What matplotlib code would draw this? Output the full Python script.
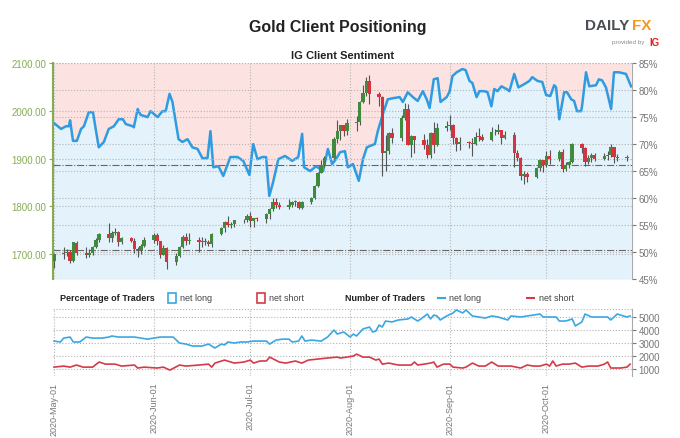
import numpy as np
import pandas as pd
import matplotlib
matplotlib.use('Agg')
import matplotlib.pyplot as plt
import matplotlib.dates as mdates
from matplotlib.patches import Rectangle
from matplotlib.lines import Line2D

plt.rcParams['font.family'] = ['Liberation Sans', 'DejaVu Sans']

# ---- gold daily candles, 2020-05-01 .. 2020-10-26 (trading days) ----
days = pd.bdate_range('2020-05-01', '2020-10-26')

opens = [1686, 1700, 1702, 1705, 1685, 1724, 1702, 1698, 1703, 1715, 1730, 1743, 1733, 1745, 1747, 1725, 1735, 1728, 1710, 1708, 1718,
         1730, 1740, 1727, 1699, 1713, 1684, 1697, 1715, 1737, 1728, 1730, 1725, 1727, 1726, 1722, 1743, 1755, 1767, 1761, 1764, 1771, 1772,
         1781, 1769, 1776, 1774, 1784, 1795, 1809, 1803, 1798, 1802, 1809, 1809, 1797, 1809, 1817, 1842, 1871, 1887, 1902, 1941, 1958, 1970, 1957,
         1975, 1976, 2018, 2037, 2062, 2035, 2028, 1912, 1916, 1953, 1944, 1985, 2003, 1929, 1947, 1940, 1928, 1907, 1953, 1929, 1964,
         1968, 1970, 1943, 1930, 1934, 1932, 1930, 1946, 1945, 1940, 1956, 1955, 1960, 1944, 1950, 1912, 1901, 1863, 1868, 1862, 1881, 1898,
         1886, 1906, 1899, 1913, 1878, 1887, 1893, 1930, 1922, 1892, 1901, 1908, 1899, 1905, 1907, 1924, 1904, 1902]
highs = [1703, 1715, 1711, 1708, 1726, 1727, 1716, 1711, 1718, 1734, 1745, 1765, 1748, 1754, 1748, 1737, 1737, 1735, 1715, 1722, 1737,
         1745, 1744, 1728, 1720, 1716, 1702, 1718, 1740, 1744, 1745, 1736, 1736, 1733, 1730, 1745, 1757, 1769, 1779, 1768, 1772, 1774, 1785,
         1789, 1776, 1778, 1786, 1797, 1818, 1817, 1810, 1815, 1812, 1814, 1811, 1812, 1820, 1844, 1872, 1898, 1905, 1945, 1981, 1971, 1970, 1984,
         1990, 2020, 2055, 2070, 2075, 2040, 2032, 1950, 1956, 1965, 1991, 2016, 2014, 1950, 1948, 1951, 1941, 1955, 1976, 1975, 1978,
         1992, 1973, 1946, 1945, 1938, 1943, 1956, 1965, 1952, 1966, 1963, 1973, 1961, 1958, 1955, 1918, 1904, 1875, 1872, 1883, 1899, 1898,
         1917, 1918, 1918, 1921, 1893, 1896, 1933, 1932, 1924, 1908, 1911, 1911, 1912, 1916, 1931, 1925, 1910, 1908]
lows = [1672, 1691, 1696, 1682, 1684, 1699, 1692, 1694, 1699, 1713, 1725, 1725, 1726, 1741, 1718, 1722, 1725, 1703, 1694, 1700, 1715,
        1723, 1720, 1693, 1698, 1670, 1677, 1694, 1713, 1719, 1722, 1704, 1715, 1720, 1718, 1716, 1741, 1747, 1757, 1755, 1758, 1766, 1768,
        1757, 1757, 1770, 1765, 1774, 1791, 1797, 1795, 1795, 1798, 1801, 1795, 1795, 1806, 1815, 1840, 1870, 1882, 1900, 1932, 1940, 1948, 1949,
        1958, 1970, 2016, 2032, 2015, 2010, 1863, 1874, 1910, 1932, 1938, 1980, 1929, 1903, 1912, 1920, 1902, 1902, 1911, 1927, 1958,
        1960, 1930, 1916, 1919, 1922, 1906, 1928, 1938, 1937, 1937, 1950, 1952, 1930, 1941, 1882, 1895, 1855, 1848, 1851, 1859, 1874, 1872,
        1883, 1889, 1895, 1873, 1874, 1881, 1890, 1911, 1885, 1888, 1892, 1895, 1898, 1897, 1904, 1890, 1896, 1896]
closes = [1700, 1702, 1705, 1685, 1725, 1702, 1698, 1703, 1715, 1730, 1743, 1733, 1745, 1747, 1725, 1735, 1728, 1710, 1708, 1718, 1730,
          1740, 1727, 1699, 1713, 1684, 1697, 1715, 1737, 1728, 1730, 1725, 1727, 1726, 1722, 1743, 1755, 1767, 1761, 1764, 1771, 1772, 1781,
          1769, 1776, 1774, 1784, 1795, 1809, 1803, 1798, 1802, 1809, 1809, 1797, 1809, 1817, 1842, 1871, 1887, 1902, 1941, 1958, 1970, 1957, 1975,
          1976, 2018, 2037, 2062, 2035, 2028, 1912, 1916, 1953, 1944, 1985, 2003, 1929, 1947, 1940, 1928, 1907, 1953, 1929, 1964, 1968,
          1970, 1943, 1930, 1934, 1932, 1930, 1946, 1945, 1940, 1956, 1955, 1960, 1944, 1950, 1912, 1901, 1863, 1868, 1862, 1881, 1898, 1886,
          1906, 1899, 1913, 1878, 1887, 1893, 1930, 1922, 1892, 1901, 1908, 1899, 1905, 1907, 1924, 1904, 1902, 1902]

# ---- % net long (days after 2020-05-01) ----
sent_day = [0, 2.2, 3.7, 4.6, 5.0, 5.9, 7.1, 8.4, 9.3, 10.8, 12.1, 13.9, 15.5, 17.0, 18.6, 20.1, 21.4, 22.3, 24.5, 24.8,
            26.0, 26.9, 29.1, 30.0, 32.2, 33.7, 34.7, 35.9, 36.8, 38.7, 39.9, 41.5, 43.0, 44.6, 46.1, 47.7, 48.6, 49.5, 51.1, 52.6,
            54.8, 57.0, 58.8, 60.7, 61.9, 63.2, 64.7, 65.9, 66.9, 68.1, 69.7, 71.8, 74.0, 75.9, 77.1, 77.7, 79.6, 81.4, 83.6, 85.1,
            86.4, 87.6, 88.9, 90.4, 91.3, 92.9, 94.7, 96.0, 97.2, 98.8, 99.7, 100.6, 102.2, 103.7, 105.3, 107.4, 108.4, 109.9, 111.5, 113.0,
            114.6, 115.8, 116.7, 118.0, 119.2, 120.1, 122.0, 122.9, 123.8, 125.1, 126.9, 127.9, 129.1, 130.0, 131.3, 132.2, 133.7, 134.7,
            135.9, 136.8, 137.8, 139.0, 140.6, 141.5, 143.0, 144.3, 146.1, 147.7, 148.6, 150.2, 151.7, 152.9, 154.2, 155.4, 156.0, 157.0,
            158.5, 159.4, 160.7, 161.6, 162.5, 163.8, 164.1, 165.3, 166.3, 168.4, 169.3, 170.3, 171.5, 173.1, 174.0, 175.5, 177.7, 179.3]
sent_long = [73.9, 72.8, 73.3, 73.3, 74.4, 70.6, 70.6, 72.8, 73.3, 75.9, 75.9, 69.4, 70.4, 72.8, 73.3, 74.6, 74.6, 73.7, 73.3, 73.1,
             76.5, 75.4, 75.0, 76.1, 75.0, 76.1, 76.1, 79.3, 77.8, 70.9, 70.4, 70.9, 69.4, 69.1, 67.4, 67.4, 72.4, 65.7, 65.9, 64.1,
             67.6, 67.6, 66.9, 64.3, 70.0, 67.2, 67.6, 67.6, 60.4, 63.0, 67.2, 67.8, 66.9, 67.6, 71.9, 65.7, 65.0, 65.9, 65.0, 69.1,
             66.3, 67.2, 68.5, 68.7, 65.7, 66.3, 63.2, 67.2, 69.4, 69.8, 70.0, 72.4, 75.6, 78.3, 78.5, 78.7, 77.8, 79.6, 78.7, 78.0,
             79.8, 78.3, 76.7, 82.0, 82.2, 77.8, 78.7, 79.7, 82.6, 83.3, 83.9, 83.7, 81.7, 81.3, 78.7, 79.8, 79.8, 79.6,
             77.0, 80.2, 79.8, 80.7, 80.2, 79.8, 83.0, 80.5, 81.1, 81.7, 82.4, 81.7, 81.5, 79.1, 78.9, 80.9, 80.5, 74.6,
             79.6, 79.6, 78.3, 78.0, 76.1, 76.1, 77.2, 83.3, 80.7, 80.9, 82.0, 81.8, 80.5, 76.5, 83.3, 83.3, 83.0, 80.7]

# ---- number of traders ----
long_day = [0, 2, 3, 5, 6, 8, 10, 12, 15, 17, 18, 20, 22, 25, 27, 29, 31, 33, 35, 37, 39, 41, 43, 46, 48, 50, 52, 53, 54, 56,
            58, 60, 62, 64, 66, 67, 69, 71, 73, 74, 76, 77, 78, 80, 83, 85, 87, 88, 90, 92, 93, 94, 96, 98, 99, 100, 101, 102, 103, 105,
            107, 110, 111, 113, 114, 116, 117, 118, 119, 120, 122, 124, 125, 127, 128, 130, 132, 134, 136, 138, 141, 142, 145, 147, 149, 151,
            152, 154, 156, 157, 159, 161, 162, 164, 165, 167, 169, 172, 173, 175, 176, 178, 179]
long_count = [3150, 3080, 3380, 3460, 3080, 3080, 3460, 3380, 3380, 3460, 3540, 3460, 3460, 3460, 3380, 3300, 3380, 3460, 3460, 3460,
              3000, 2920, 2770, 2770, 2920, 2620, 2920, 2850, 3080, 3000, 3080, 3080, 3150, 3150, 3150, 2920, 3230, 3300, 3300, 3080,
              3150, 3540, 3150, 3230, 3150, 3460, 4000, 3690, 3850, 3460, 3690, 3540, 4080, 4230, 3850, 3920, 4380, 4230, 4690, 4620,
              4770, 4850, 5000, 4690, 4850, 5230, 4850, 5150, 5080, 4770, 5080, 5310, 5540, 5310, 5540, 5080, 5000, 4920, 5080, 5000,
              4770, 5080, 5000, 5080, 5150, 5230, 5000, 5000, 5000, 4690, 4690, 4850, 4310, 4620, 5230, 5000, 5000, 5000, 4770, 5230,
              5150, 5000, 5080]
short_day = [0, 3, 5, 7, 9, 12, 14, 16, 19, 21, 25, 26, 28, 32, 34, 36, 39, 41, 45, 48, 49, 50, 53, 56, 59, 61, 62, 64, 66, 67,
             70, 72, 75, 77, 79, 82, 85, 88, 89, 91, 93, 94, 96, 98, 100, 101, 102, 104, 107, 111, 112, 113, 115, 117, 118, 119, 121,
             123, 124, 127, 128, 130, 132, 134, 136, 138, 141, 142, 145, 147, 149, 151, 153, 154, 155, 156, 158, 160, 162, 164, 166,
             169, 171, 172, 173, 176, 178, 179]
short_count = [1150, 1230, 1150, 1310, 1150, 1150, 1540, 1380, 1380, 1230, 1310, 1080, 1150, 1080, 1150, 920, 1310, 1230, 1310, 1380,
               1150, 1460, 1690, 1460, 1540, 1690, 1460, 1620, 1620, 1920, 1540, 1460, 1620, 1460, 1690, 1770, 1850, 1920, 1850, 1920,
               2000, 2150, 1920, 1920, 1690, 1770, 1380, 1460, 1310, 1310, 1540, 1310, 1380, 1460, 1540, 1150, 1380, 1380, 1150, 1080,
               1150, 1460, 1230, 1230, 1540, 1230, 1230, 1230, 1080, 1310, 1230, 1230, 1380, 1230, 1620, 1230, 1380, 1380, 1460, 1150,
               1230, 1230, 1380, 1540, 1080, 1080, 1150, 1380]

months = ['2020-05-01', '2020-06-01', '2020-07-01', '2020-08-01', '2020-09-01', '2020-10-01']
pct_ticks = [45, 50, 55, 60, 65, 70, 75, 80, 85]
price_ticks = [1700, 1800, 1900, 2000, 2100]
count_ticks = [1000, 2000, 3000, 4000, 5000]

# colours
GREEN_AX = '#84ad52'
GRAY = '#777777'
GRID = '#b5b5b5'
BLUE = '#2f9be0'
RED = '#d63a48'
UP = '#3f8a3c'
DOWN = '#d3343d'

base = mdates.date2num(pd.Timestamp('2020-05-01'))
xd = mdates.date2num(days)
xlim = (base - 0.3, base + 179.5)

fig = plt.figure(figsize=(6.8, 4.39), dpi=100)

# ---------- top panel: % long (main axes) + price candles (twin) ----------
ax = fig.add_axes([0.078, 0.362, 0.851, 0.492])
ax.set_xlim(*xlim)
ax.set_ylim(45, 85)
sx = base + np.array(sent_day)
sl = np.array(sent_long)
ax.fill_between(sx, sl, 85, color='#fde2e2', lw=0)
ax.fill_between(sx, 45, sl, color='#e3f2fb', lw=0)
for t in pct_ticks:
    ax.axhline(t, color=GRID, ls=':', lw=0.8, zorder=1)
for m in months:
    ax.axvline(mdates.date2num(pd.Timestamp(m)), color=GRID, ls=':', lw=0.8, zorder=1)
ax.axhline(66.2, color='#666666', ls='-.', lw=0.8, zorder=2)
ax.axhline(50.3, color='#666666', ls='-.', lw=0.8, zorder=2)
ax.plot(sx, sl, color=BLUE, lw=1.8, zorder=3)
ax.set_xticks([])

axp = ax.twinx()
# twinx moves the main ticks to the left, so put them back on the right
ax.yaxis.tick_right()
ax.set_yticks(pct_ticks)
ax.set_yticklabels(['%d%%' % t for t in pct_ticks])
ax.tick_params(axis='y', colors=GRAY, labelsize=7, length=3, pad=2)
for s in ['top', 'bottom', 'left']:
    ax.spines[s].set_visible(False)
ax.spines['right'].set_color('#aaaaaa')

axp.set_ylim(1648, 2100)
axp.set_xlim(*xlim)
for t in price_ticks:
    axp.axhline(t, color=GRID, ls=':', lw=0.8, zorder=1)
o = np.array(opens)
c = np.array(closes)
h = np.array(highs)
l = np.array(lows)
cols = [UP if cc >= oo else DOWN for oo, cc in zip(o, c)]
axp.vlines(xd, l, h, color='#555555', lw=0.8, zorder=4)
axp.bar(xd, np.maximum(np.abs(c - o), 1.5), bottom=np.minimum(o, c), width=1.05,
        color=cols, lw=0, zorder=5)
axp.yaxis.tick_left()
axp.set_yticks(price_ticks)
axp.set_yticklabels(['%.2f' % t for t in price_ticks])
axp.tick_params(axis='y', colors=GREEN_AX, labelsize=7, length=3, pad=2)
for s in ['top', 'bottom', 'right']:
    axp.spines[s].set_visible(False)
axp.spines['left'].set_color(GREEN_AX)
axp.spines['left'].set_linewidth(1.5)

# ---------- bottom panel ----------
axb = fig.add_axes([0.078, 0.141, 0.851, 0.153])
axb.set_xlim(*xlim)
axb.set_ylim(460, 5620)
for t in count_ticks + [5620, 460]:
    axb.axhline(t, color=GRID, ls=':', lw=0.8, zorder=1)
for m in months:
    axb.axvline(mdates.date2num(pd.Timestamp(m)), color=GRID, ls=':', lw=0.8, zorder=1)
axb.plot(base + np.array(long_day), long_count, color='#3aa7e3', lw=1.2, zorder=3)
axb.plot(base + np.array(short_day), short_count, color=RED, lw=1.2, zorder=3)
axb.yaxis.tick_right()
axb.set_yticks(count_ticks)
axb.tick_params(axis='y', colors=GRAY, labelsize=7, length=3, pad=2)
axb.set_xticks([mdates.date2num(pd.Timestamp(m)) for m in months])
axb.xaxis.set_major_formatter(mdates.DateFormatter('%Y-%b-%d'))
axb.tick_params(axis='x', colors=GRAY, labelsize=6.5, rotation=90, length=0, pad=4)
for s in ['top', 'bottom', 'left']:
    axb.spines[s].set_visible(False)
axb.spines['right'].set_color('#aaaaaa')

# ---------- titles, legend row, logo ----------
fig.text(0.497, 0.938, 'Gold Client Positioning', ha='center', va='center',
         fontsize=11.5, fontweight='bold', color='#222222')
fig.text(0.504, 0.873, 'IG Client Sentiment', ha='center', va='center',
         fontsize=8, fontweight='bold', color='#222222')

ly = 0.319
fig.text(0.088, ly, 'Percentage of Traders', fontsize=6.5, fontweight='bold', va='center', color='#222222')
fig.patches.append(Rectangle((0.247, ly - 0.012), 0.012, 0.024, transform=fig.transFigure,
                             facecolor='white', edgecolor='#3aa7e3', lw=1.2))
fig.text(0.264, ly, 'net long', fontsize=6.5, va='center', color='#444444')
fig.patches.append(Rectangle((0.378, ly - 0.012), 0.012, 0.024, transform=fig.transFigure,
                             facecolor='white', edgecolor=RED, lw=1.2))
fig.text(0.395, ly, 'net short', fontsize=6.5, va='center', color='#444444')
fig.text(0.507, ly, 'Number of Traders', fontsize=6.5, fontweight='bold', va='center', color='#222222')
fig.lines.append(Line2D([0.644, 0.654], [ly, ly], transform=fig.transFigure, color='#3aa7e3', lw=1.5))
fig.text(0.661, ly, 'net long', fontsize=6.5, va='center', color='#444444')
fig.lines.append(Line2D([0.775, 0.785], [ly, ly], transform=fig.transFigure, color=RED, lw=1.5))
fig.text(0.792, ly, 'net short', fontsize=6.5, va='center', color='#444444')

fig.text(0.860, 0.940, 'DAILY', fontsize=11, fontweight='bold', color='#4a4f55', va='center')
fig.text(0.929, 0.940, 'FX', fontsize=11, fontweight='bold', color='#f29a1f', va='center')
fig.text(0.900, 0.903, 'provided by', fontsize=4.5, color='#888888', va='center')
fig.text(0.955, 0.903, 'IG', fontsize=7, fontweight='bold', color='#e2231a', va='center')

fig.savefig('out.png', dpi=100)
